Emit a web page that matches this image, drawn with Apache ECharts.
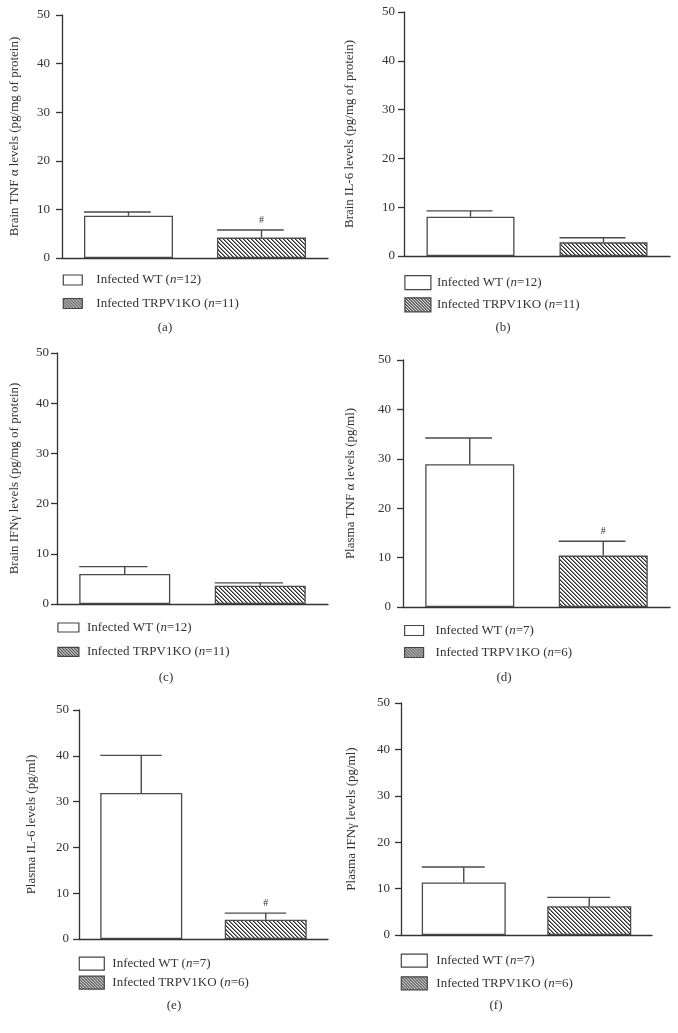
<!DOCTYPE html>
<html><head><meta charset="utf-8">
<script src="https://cdn.jsdelivr.net/npm/echarts@6/dist/echarts.min.js"></script>
<style>html,body{margin:0;padding:0;background:#fff}#c{width:678px;height:1033px}</style>
</head><body><div id="c"></div>
<script>
// ---------- data ----------
const categories = ['Infected WT', 'Infected TRPV1KO'];
const panelTags = ['(a)', '(b)', '(c)', '(d)', '(e)', '(f)'];
const yAxisTitles = [
  'Brain TNF α levels (pg/mg of protein)',
  'Brain IL-6 levels (pg/mg of protein)',
  'Brain IFNγ levels (pg/mg of protein)',
  'Plasma TNF α levels (pg/ml)',
  'Plasma IL-6 levels (pg/ml)',
  'Plasma IFNγ levels (pg/ml)'
];
const wtMean   = [8.7, 8.05, 6.0, 28.9, 31.9, 11.3];
const wtErrTop = [9.45, 9.25, 7.45, 34.2, 40.1, 14.65];
const koMean   = [4.2, 2.8, 3.65, 10.4, 4.2, 6.2];
const koErrTop = [5.75, 3.75, 4.2, 13.3, 5.65, 8.1];
const koMarker = ['#', '', '', '#', '#', ''];
const wtN = [12, 12, 12, 7, 7, 7];
const koN = [11, 11, 11, 6, 6, 6];
const yMin = 0, yMax = 50, yStep = 10;

// ---------- layout ----------
const layout = [
  {grid:{left:62, top:15, width:266, height:243}, bw:89, nameGap:41, lm:12,
   lg:{left:62.7, top:273.5, w:19, h:10, gap:10.5, extra:9}, tag:[165,328]},
  {grid:{left:404, top:12, width:266, height:244}, bw:88, nameGap:48, lm:9,
   lg:{left:404.3, top:275, w:26, h:14, gap:7, extra:1}, tag:[503,328]},
  {grid:{left:57, top:353, width:271, height:251}, bw:91, nameGap:36, lm:8,
   lg:{left:57.3, top:621, w:21, h:9, gap:11.3, extra:3}, tag:[166,678]},
  {grid:{left:403, top:360, width:267, height:247}, bw:89, nameGap:46, lm:12,
   lg:{left:404, top:624, w:19, h:10, gap:9, extra:7}, tag:[504,678]},
  {grid:{left:79, top:710, width:249, height:229}, bw:82, nameGap:40.5, lm:10,
   lg:{left:78.7, top:956.5, w:25, h:13, gap:4.8, extra:3}, tag:[174,1006]},
  {grid:{left:401, top:703, width:251, height:232}, bw:84, nameGap:43, lm:11,
   lg:{left:400.7, top:953.5, w:26, h:13, gap:8.5, extra:4}, tag:[496,1006]}
];

const FONT = '"Liberation Serif", "Times New Roman", serif';
const TXT = '#333';
const AX = '#333';

// crisp "\" diagonal hatch tile
function hatch(n) {
  const c = document.createElement('canvas');
  c.width = n; c.height = n;
  const g = c.getContext('2d');
  g.fillStyle = '#fff'; g.fillRect(0, 0, n, n);
  for (let y = 0; y < n; y++) {
    g.fillStyle = '#2a2a2a'; g.fillRect(y % n, y, 1, 1);
    g.fillStyle = '#8a8a8a'; g.fillRect((y + 1) % n, y, 1, 1);
  }
  return c;
}
const barHatch = {image: hatch(4), repeat: 'repeat'};
const legHatch = {image: hatch(3), repeat: 'repeat'};

const grids = [], xAxes = [], yAxes = [], series = [], legends = [], graphics = [];

layout.forEach((L, i) => {
  grids.push(Object.assign({containLabel: false, outerBoundsMode: 'none'}, L.grid));
  xAxes.push({
    type: 'category', gridIndex: i, data: categories, boundaryGap: true,
    axisLine: {show: true, lineStyle: {color: AX, width: 1.3}},
    axisTick: {show: false}, axisLabel: {show: false}, splitLine: {show: false}
  });
  yAxes.push({
    type: 'value', gridIndex: i, min: yMin, max: yMax, interval: yStep,
    name: yAxisTitles[i], nameLocation: 'middle', nameGap: L.nameGap,
    nameTextStyle: {fontFamily: FONT, fontSize: 13, color: TXT},
    axisLine: {show: true, lineStyle: {color: AX, width: 1.3}},
    axisTick: {show: true, inside: false, length: 6, lineStyle: {color: AX, width: 1.3}},
    axisLabel: {fontFamily: FONT, fontSize: 13, color: TXT, margin: L.lm},
    splitLine: {show: false}
  });
  const wtName = 'Infected WT (n=' + wtN[i] + ')';
  const koName = 'Infected TRPV1KO (n=' + koN[i] + ')';
  series.push({
    type: 'bar', name: wtName, xAxisIndex: i, yAxisIndex: i,
    data: [wtMean[i], '-'], barWidth: L.bw, barGap: '-100%',
    itemStyle: {color: '#fff', borderColor: '#4a4a4a', borderWidth: 1.3}, silent: true
  });
  series.push({
    type: 'bar', name: koName, xAxisIndex: i, yAxisIndex: i,
    data: ['-', koMean[i]], barWidth: L.bw, barGap: '-100%',
    itemStyle: {color: barHatch, borderColor: '#4a4a4a', borderWidth: 1.3}, silent: true
  });
  const bw = L.bw;
  series.push({
    type: 'custom', xAxisIndex: i, yAxisIndex: i, silent: true, z: 5,
    encode: {x: 0, y: [1, 2]},
    data: [[0, wtMean[i], wtErrTop[i]], [1, koMean[i], koErrTop[i]]],
    renderItem: function (params, api) {
      const x = api.value(0);
      const base = api.coord([x, api.value(1)]);
      const top = api.coord([x, api.value(2)]);
      const st = {stroke: '#4a4a4a', lineWidth: 1.4};
      const children = [
        {type: 'line', shape: {x1: base[0], y1: base[1], x2: top[0], y2: top[1]}, style: st},
        {type: 'line', shape: {x1: top[0] - bw / 2, y1: top[1], x2: top[0] + bw / 4, y2: top[1]}, style: st}
      ];
      const mk = params.dataIndex === 1 ? koMarker[i] : '';
      if (mk) {
        children.push({type: 'text', style: {text: mk, x: top[0], y: top[1] - 10,
          align: 'center', verticalAlign: 'middle', font: '10px ' + FONT, fill: TXT}});
      }
      return {type: 'group', children: children};
    }
  });
  const lg = L.lg;
  legends.push({
    orient: 'vertical', left: lg.left, top: lg.top, padding: 0,
    itemWidth: lg.w, itemHeight: lg.h, itemGap: lg.gap, selectedMode: false,
    icon: 'rect',
    data: [
      {name: wtName, icon: 'rect', itemStyle: {color: '#fff', borderColor: '#444', borderWidth: 1.2}},
      {name: koName, icon: 'rect', itemStyle: {color: legHatch, borderColor: '#444', borderWidth: 1.2}}
    ],
    formatter: function (name) {
      const m = name.match(/^(.*\()n(=.*)$/);
      return '{g| }{t|' + m[1] + '}{i|n}{t|' + m[2] + '}';
    },
    textStyle: {
      fontFamily: FONT, fontSize: 13, color: TXT,
      rich: {
        g: {width: lg.extra, fontFamily: FONT, fontSize: 13},
        t: {fontFamily: FONT, fontSize: 13, color: TXT},
        i: {fontFamily: FONT, fontSize: 13, color: TXT, fontStyle: 'italic'}
      }
    }
  });
  graphics.push({
    type: 'text', x: L.tag[0], y: L.tag[1], silent: true,
    style: {text: panelTags[i], align: 'center', verticalAlign: 'middle',
      font: '13px ' + FONT, fill: TXT}
  });
});

const chart = echarts.init(document.getElementById('c'), null, {renderer: 'canvas'});
chart.setOption({
  animation: false,
  backgroundColor: '#fff',
  grid: grids, xAxis: xAxes, yAxis: yAxes, series: series,
  legend: legends, graphic: graphics, tooltip: {show: false}
});
</script></body></html>
